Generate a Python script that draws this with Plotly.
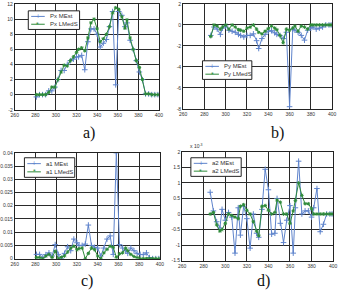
import plotly.graph_objects as go

# ---------------- data ----------------
x_left = [281, 284, 287, 290, 293, 296, 299, 302, 305, 308, 311, 314, 317, 320,
          322, 325, 328, 331, 334, 337, 340, 343, 346, 349, 352, 355, 358, 361,
          364, 367, 369, 372, 375, 378, 381, 384, 387, 390, 393, 396, 399]
x_right = [286, 289, 292, 295, 297, 300, 303, 306, 309, 312, 314, 317, 320, 323,
           326, 329, 331, 334, 337, 340, 343, 346, 348, 351, 354, 357, 360, 363,
           365, 368, 371, 374, 377, 380, 382, 385, 388, 391, 394, 397, 399]

px_mest = [-0.3, 0, 0, 0, 0.5, 0.5, 1.0, 2.0, 3.2, 3.2, 4.0, 4.5, 4.7, 5.0,
           5.0, 5.2, 3.3, 7.0, 8.7, 8.7, 8.0, 6.3, 6.8, 7.3, 9.0, 11.0, 1.3, 11.0,
           10.5, 9.0, 9.5, 7.2, 6.0, 4.5, 3.0, 2.0, 0.1, 0.1, 0.0, 0.0, 0.0]
px_lmeds = [0, 0, 0, 0, 0.3, 1.0, 1.0, 2.0, 3.0, 3.9, 3.8, 4.5, 5.0, 5.6,
            6.0, 6.2, 5.8, 7.5, 9.5, 10.0, 8.7, 7.0, 7.4, 8.0, 9.0, 10.8, 11.5, 11.3,
            10.3, 8.8, 9.9, 7.5, 6.0, 4.5, 3.6, 2.0, 0.1, 0.1, 0.0, 0.0, 0.0]

py_mest = [-1.0, -0.2, -0.4, -0.9, -0.3, -0.1, -0.5, -0.6, -0.7, -0.9, -1.0, -1.15, -1.0, -1.0,
           -0.85, -1.5, -2.25, -1.3, -0.9, -0.6, -0.55, -0.75, -0.9, -1.0, -1.3, -0.7, -7.8, -0.4,
           -0.5, -0.7, -1.0, -1.45, -0.5, -0.3, -0.2, -0.4, -0.3, -0.2, 0, 0, 0]
py_lmeds = [-1.1, 0, -0.1, -0.4, -0.2, 0, -0.4, 0, -0.2, -0.45, -0.5, -0.6, -0.3, -0.2,
            0, -0.4, -0.7, -0.85, -0.6, -0.35, -0.1, -0.3, -0.45, -1.0, -1.7, -0.4, -0.5, -0.3,
            -0.1, -0.6, -0.1, -0.2, -0.4, 0, 0, 0, 0, 0, 0, 0, 0]

a1_mest = [0.0016, 0.0016, 0.0004, 0.0015, 0.0022, 0.001, 0.0053, 0.0016, 0.0, 0.002, 0.0045,
           0.003, 0.0074, 0.006, 0.005, 0.005, 0.0055, 0.0127, 0.005, 0.0043, 0.004, 0.001,
           0.004, 0.0074, 0.0086, 0.0016, 0.04, 0.0053, 0.004, 0.003, 0.002, 0.004, 0.003,
           0.002, 0.0016, 0.0015, 0.0022, 0.0004, 0, 0, 0]
a1_lmeds = [0.0004, 0.0004, 0, 0.001, 0.0016, 0.0004, 0.0028, 0, 0.0005, 0.001, 0.0025,
            0.004, 0.0047, 0.0034, 0.0038, 0.004, 0, 0.002, 0.004, 0.0034, 0.001, 0,
            0.0022, 0.0035, 0.0047, 0.0043, 0.0005, 0.0018, 0.0022, 0.004, 0.003, 0.0016, 0.0008,
            0.0004, 0, 0, 0, 0, 0, 0, 0]

# a2 values in units of 1e-3
a2_mest = [0.7, 0.1, -0.25, -0.45, 0.15, -0.2, 0.05, -0.1, -1.26, 0.2, -0.68, 0.25, -0.15, -1.1,
           0.0, -0.62, -0.75, 0.15, 1.44, 0.78, -0.65, -0.62, 0.5, -0.3, -0.92, -0.2, 0.27, -1.26,
           0.2, 1.7, 0.0, 0.1, 0.1, -0.1, 0.2, 0.82, -0.57, -0.33, 0, 0, 0]
a2_lmeds = [0, 0.05, -0.35, -0.55, -0.5, -0.3, 0, -0.05, -0.1, -0.15, 0.25, 0.3, 0.12, 0,
            -0.25, -0.55, -0.7, 0.25, 0.27, 0.12, 0.0, 0.05, 0.45, 0.38, 0.0, 0.0, -0.3, 0.1,
            0.43, 1.0, 0.6, 0.33, 0.33, 0.17, 0, 0, 0, 0, 0, 0, 0]

x_ticks = [260, 280, 300, 320, 340, 360, 380, 400]
ya_ticks = [-2, 0, 2, 4, 6, 8, 10, 12]
yb_ticks = [-8, -6, -4, -2, 0, 2]
yc_ticks = [0, 0.005, 0.01, 0.015, 0.02, 0.025, 0.03, 0.035, 0.04]
yc_text = ["0", "0.005", "0.01", "0.015", "0.02", "0.025", "0.03", "0.035", "0.04"]
yd_ticks = [-1.5, -1, -0.5, 0, 0.5, 1, 1.5, 2]
yd_text = ["-1.5", "-1", "-0.5", "0", "0.5", "1", "1.5", "2"]

panel_labels = ["a)", "b)", "c)", "d)"]
series_names = ["Px", "Py", "a1", "a2"]

# ---------------- style ----------------
BLUE = "#5f84cc"
GREEN = "#2e8b3a"
W, H = 341, 292


def fx(p):
    return p / W


def fy(p):
    return 1 - p / H


fig = go.Figure()

panels = [
    dict(xa="x", ya="y", x=x_left, m=px_mest, l=px_lmeds),
    dict(xa="x2", ya="y2", x=x_right, m=py_mest, l=py_lmeds),
    dict(xa="x3", ya="y3", x=x_left, m=a1_mest, l=a1_lmeds),
    dict(xa="x4", ya="y4", x=x_right, m=a2_mest, l=a2_lmeds),
]
for nm, p in zip(series_names, panels):
    fig.add_trace(go.Scatter(x=p["x"], y=p["m"], xaxis=p["xa"], yaxis=p["ya"],
                             mode="lines+markers", name=nm + " MEst",
                             line=dict(color=BLUE, width=1),
                             marker=dict(symbol="cross-thin", size=4,
                                         line=dict(color=BLUE, width=1))))
    fig.add_trace(go.Scatter(x=p["x"], y=p["l"], xaxis=p["xa"], yaxis=p["ya"],
                             mode="lines+markers", name=nm + " LMedS",
                             line=dict(color=GREEN, width=1),
                             marker=dict(symbol="asterisk-open", size=3,
                                         line=dict(color=GREEN, width=1))))

axis_common = dict(showline=True, mirror=True, linecolor="#222", linewidth=1,
                   showgrid=True, gridcolor="#2a2a2a", gridwidth=1, zeroline=False,
                   ticks="", tickfont=dict(size=5, color="#333", family="Liberation Sans"))

dom = {
    "a": ([fx(8), fx(157)], [fy(109), fy(1)]),
    "b": ([fx(182), fx(336)], [fy(108), fy(1)]),
    "c": ([fx(8), fx(158)], [fy(261), fy(153)]),
    "d": ([fx(181), fx(337)], [fy(263), fy(152)]),
}

layout = dict(
    width=W, height=H, margin=dict(l=0, r=0, t=0, b=0),
    paper_bgcolor="white", plot_bgcolor="white", showlegend=False,
    font=dict(family="Liberation Sans", color="#333"),
)
names = ["a", "b", "c", "d"]
yranges = [[-2, 12], [-8, 2], [0, 0.04], [-1.5, 2]]
ytv = [ya_ticks, yb_ticks, yc_ticks, yd_ticks]
ytt = [[str(v) for v in ya_ticks], [str(v) for v in yb_ticks], yc_text, yd_text]
for i, n in enumerate(names):
    sfx = "" if i == 0 else str(i + 1)
    xd, yd = dom[n]
    layout["xaxis" + sfx] = dict(axis_common, domain=xd, range=[260, 400],
                                 tickvals=x_ticks, anchor="y" + sfx)
    layout["yaxis" + sfx] = dict(axis_common, domain=yd, range=yranges[i],
                                 tickvals=ytv[i], ticktext=ytt[i], anchor="x" + sfx)

fig.update_layout(**layout)

# ---------------- legends (drawn as boxes + samples + text) ----------------
legend_boxes = [(22, 8, 75, 27), (202, 59, 253, 78), (18, 158, 70, 178), (190, 158, 242, 177)]
for nm, (x0, y0, x1, y1) in zip(series_names, legend_boxes):
    fig.add_shape(type="rect", xref="paper", yref="paper",
                  x0=fx(x0), x1=fx(x1), y0=fy(y1), y1=fy(y0),
                  line=dict(color="#222", width=1), fillcolor="white", layer="above")
    rows = [(y0 + (y1 - y0) * 0.3, BLUE, "+", nm + " MEst", 7),
            (y0 + (y1 - y0) * 0.72, GREEN, "*", nm + " LMedS", 7)]
    for ry, col, sym, txt, ssz in rows:
        fig.add_shape(type="line", xref="paper", yref="paper",
                      x0=fx(x0 + 3), x1=fx(x0 + 17), y0=fy(ry), y1=fy(ry),
                      line=dict(color=col, width=1), layer="above")
        fig.add_annotation(text=sym, x=fx(x0 + 10), y=fy(ry), xref="paper", yref="paper",
                           showarrow=False, xanchor="center", yanchor="middle",
                           font=dict(size=ssz, color=col, family="Liberation Sans"))
        fig.add_annotation(text=txt, x=fx(x0 + 20), y=fy(ry), xref="paper", yref="paper",
                           showarrow=False, xanchor="left", yanchor="middle",
                           font=dict(size=6, color="#333", family="Liberation Sans"))

lab_pos = [(85, 133), (280, 133), (83, 284), (265, 284)]
for lab, (lx, ly) in zip(panel_labels, lab_pos):
    fig.add_annotation(text=lab, x=fx(lx), y=fy(ly), xref="paper", yref="paper",
                       showarrow=False, xanchor="center", yanchor="middle",
                       font=dict(size=16, family="Liberation Serif", color="#111"))

fig.add_annotation(text="x 10<sup>-3</sup>", x=fx(187), y=fy(146), xref="paper", yref="paper",
                   showarrow=False, xanchor="left", yanchor="middle",
                   font=dict(size=5, family="Liberation Sans", color="#333"))

fig.write_html("out.html")
